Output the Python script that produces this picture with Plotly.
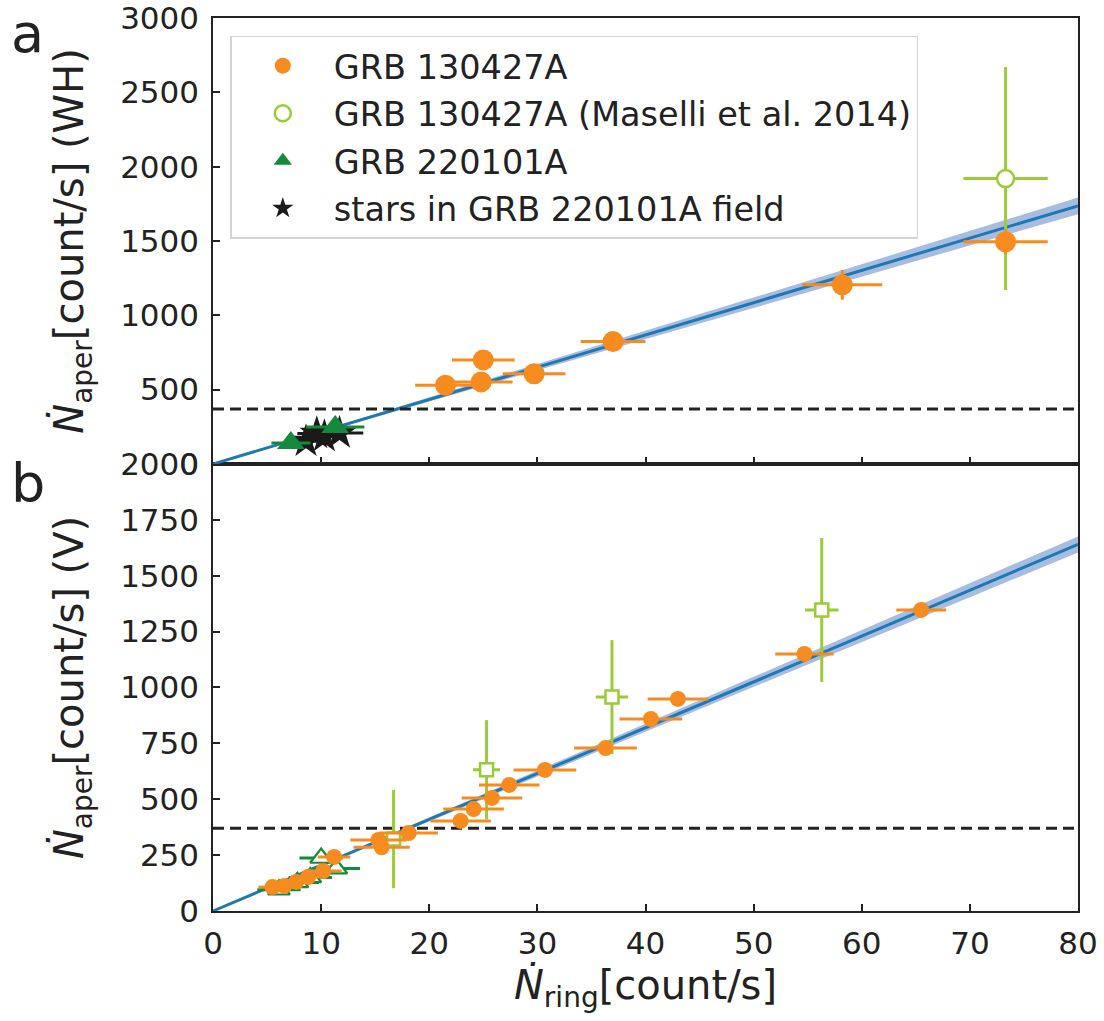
import numpy as np
import plotly.graph_objects as go

# ---------------- data ----------------
# Panel a: white-hole (WH) filter
grb130_wh_x = [21.5, 24.8, 25.0, 29.7, 37.0, 58.2, 73.3]
grb130_wh_y = [530, 552, 700, 607, 823, 1205, 1495]
grb130_wh_xerr = [2.8, 2.9, 2.9, 2.9, 3.0, 3.7, 3.9]
grb130_wh_yerr = [20, 20, 25, 25, 30, 100, 85]

maselli_wh_x = [73.3]
maselli_wh_y = [1920]
maselli_wh_xerr = [3.9]
maselli_wh_yerr = [750]

grb220_wh_x = [7.2, 11.3]
grb220_wh_y = [141, 249]
grb220_wh_xerr = [1.8, 2.7]
grb220_wh_yerr = [15, 20]

stars_wh_x = [8.6, 9.6, 10.3, 11.7]
stars_wh_y = [152, 205, 185, 208]
stars_wh_xerr = [1.5, 1.8, 1.8, 2.2]
stars_wh_yerr = [10, 12, 12, 14]

# Panel b: V filter
grb130_v_x = [5.5, 6.6, 7.7, 8.8, 10.2, 11.2, 15.3, 15.6, 18.1, 22.9, 24.1,
              25.8, 27.4, 30.7, 36.3, 40.5, 43.0, 54.7, 65.5]
grb130_v_y = [107, 112, 130, 152, 179, 242, 318, 285, 349, 403, 456,
              506, 564, 631, 729, 859, 949, 1150, 1347]
grb130_v_xerr = [1.3, 1.4, 1.5, 1.6, 1.7, 1.5, 2.6, 2.6, 2.7, 2.8, 2.8,
                 2.8, 2.8, 2.9, 2.9, 2.9, 2.8, 2.7, 2.3]

maselli_v_x = [16.7, 25.3, 36.9, 56.3]
maselli_v_y = [322, 632, 957, 1347]
maselli_v_xerr = [1.2, 1.25, 1.5, 1.55]
maselli_v_yerr = [220, 222, 255, 322]

grb220_v_x = [6.1, 7.8, 9.0, 10.0, 11.4]
grb220_v_y = [95, 128, 150, 237, 190]
grb220_v_xerr = [2.0, 2.0, 2.0, 2.0, 2.2]

# Linear fits through the origin (slope and 1-sigma slope error)
fit_wh_slope, fit_wh_err = 21.7, 0.7
fit_v_slope, fit_v_err = 20.5, 0.45
threshold_rate = 370
x_range = [0, 80]

# ---------------- styles ----------------
ORANGE = "#f68b1f"
LGREEN = "#9acb38"
DGREEN = "#168a3c"
BLUE = "#1f77b4"
BAND = "#a7bde0"
FONT = "DejaVu Sans"
INK = "#222222"

fig = go.Figure()


def add_fit(slope, err, xa, ya):
    xs = np.linspace(x_range[0], x_range[1], 50)
    fig.add_trace(go.Scatter(
        x=np.concatenate([xs, xs[::-1]]),
        y=np.concatenate([xs * (slope + err), (xs * (slope - err))[::-1]]),
        fill="toself", fillcolor=BAND, line=dict(width=0), mode="lines",
        hoverinfo="skip", showlegend=False, xaxis=xa, yaxis=ya))
    fig.add_trace(go.Scatter(
        x=xs, y=xs * slope, mode="lines", line=dict(color=BLUE, width=3),
        showlegend=False, xaxis=xa, yaxis=ya))
    fig.add_trace(go.Scatter(
        x=x_range, y=[threshold_rate, threshold_rate], mode="lines",
        line=dict(color=INK, width=3, dash="11px,6px"),
        showlegend=False, xaxis=xa, yaxis=ya))


def errs(arr, color, width=3):
    if arr is None:
        return dict(visible=False)
    return dict(type="data", array=arr, color=color, thickness=width, width=0)


def add_pts(x, y, xerr, yerr, xa, ya, name, color, symbol, size,
            fill=True, legend=False, rank=1, line_w=2.5):
    marker = dict(symbol=symbol, size=size, color=color if fill else "white",
                  line=dict(color=color, width=0 if fill else line_w))
    fig.add_trace(go.Scatter(
        x=x, y=y, mode="markers", name=name, marker=marker,
        error_x=errs(xerr, color), error_y=errs(yerr, color),
        showlegend=legend, legendrank=rank, legendgroup=name,
        xaxis=xa, yaxis=ya))


# panel a (top)
add_fit(fit_wh_slope, fit_wh_err, "x2", "y2")
add_pts(maselli_wh_x, maselli_wh_y, maselli_wh_xerr, maselli_wh_yerr, "x2", "y2",
        "GRB 130427A (Maselli et al. 2014)", LGREEN, "circle", 17,
        fill=False, legend=True, rank=2)
add_pts(stars_wh_x, stars_wh_y, stars_wh_xerr, stars_wh_yerr, "x2", "y2",
        "stars in GRB 220101A field", "#1a1a1a", "star", 26, legend=True, rank=4)
add_pts(grb220_wh_x, grb220_wh_y, grb220_wh_xerr, grb220_wh_yerr, "x2", "y2",
        "GRB 220101A", DGREEN, "triangle-up", 24, legend=True, rank=3)
add_pts(grb130_wh_x, grb130_wh_y, grb130_wh_xerr, grb130_wh_yerr, "x2", "y2",
        "GRB 130427A", ORANGE, "circle", 21, legend=True, rank=1)

# panel b (bottom)
add_fit(fit_v_slope, fit_v_err, "x", "y")
add_pts(maselli_v_x, maselli_v_y, maselli_v_xerr, maselli_v_yerr, "x", "y",
        "GRB 130427A (Maselli et al. 2014) V", LGREEN, "square", 13, fill=False)
add_pts(grb220_v_x, grb220_v_y, grb220_v_xerr, None, "x", "y",
        "GRB 220101A V", DGREEN, "triangle-up", 19, fill=False, line_w=2.2)
add_pts(grb130_v_x, grb130_v_y, grb130_v_xerr, None, "x", "y",
        "GRB 130427A V", ORANGE, "circle", 16)

axis_common = dict(
    showline=True, linecolor=INK, linewidth=1.5, mirror=True,
    ticks="inside", ticklen=7, tickwidth=1.5, tickcolor=INK,
    showgrid=False, zeroline=False, automargin=False,
    ticklabeloverflow="allow",
    tickfont=dict(family=FONT, size=31, color=INK),
)
title_font = dict(family=FONT, size=40, color=INK)

fig.update_layout(
    width=1104, height=1021,
    margin=dict(l=213, r=26, t=18, b=110),
    paper_bgcolor="white", plot_bgcolor="white",
    font=dict(family=FONT, color=INK),
    xaxis=dict(domain=[0, 1], range=x_range, tickvals=list(range(0, 81, 10)),
               anchor="y", ticklabelstandoff=4,
               title=dict(text="<i>Ṅ</i><sub>ring</sub>[count/s]",
                          font=title_font, standoff=10),
               **axis_common),
    yaxis=dict(domain=[0, 0.5006], range=[0, 2000],
               tickvals=list(range(0, 2001, 250)), anchor="x",
               ticklabelstandoff=6,
               title=dict(text="<i>Ṅ</i><sub>aper</sub>[count/s] (V)",
                          font=title_font, standoff=24),
               **axis_common),
    xaxis2=dict(domain=[0, 1], range=x_range, tickvals=list(range(0, 81, 10)),
                anchor="y2", matches="x", showticklabels=False,
                **axis_common),
    yaxis2=dict(domain=[0.5006, 1], range=[0, 3000],
                tickvals=list(range(0, 3001, 500)), anchor="x2",
                ticklabelstandoff=6,
                title=dict(text="<i>Ṅ</i><sub>aper</sub>[count/s] (WH)",
                           font=title_font, standoff=24),
                **axis_common),
    legend=dict(
        x=0.02, y=0.98, xanchor="left", yanchor="top",
        bgcolor="white", bordercolor="#d4d4d4", borderwidth=1.5,
        font=dict(family=FONT, size=33.5, color=INK),
        traceorder="grouped", tracegroupgap=1, itemwidth=92,
    ),
    annotations=[
        dict(text="a", x=-0.236, y=1.02, xref="paper", yref="paper",
             xanchor="left", yanchor="top", showarrow=False,
             font=dict(family=FONT, size=54, color=INK)),
        dict(text="b", x=-0.236, y=0.516, xref="paper", yref="paper",
             xanchor="left", yanchor="top", showarrow=False,
             font=dict(family=FONT, size=54, color=INK)),
    ],
)

fig.write_html("out.html")
